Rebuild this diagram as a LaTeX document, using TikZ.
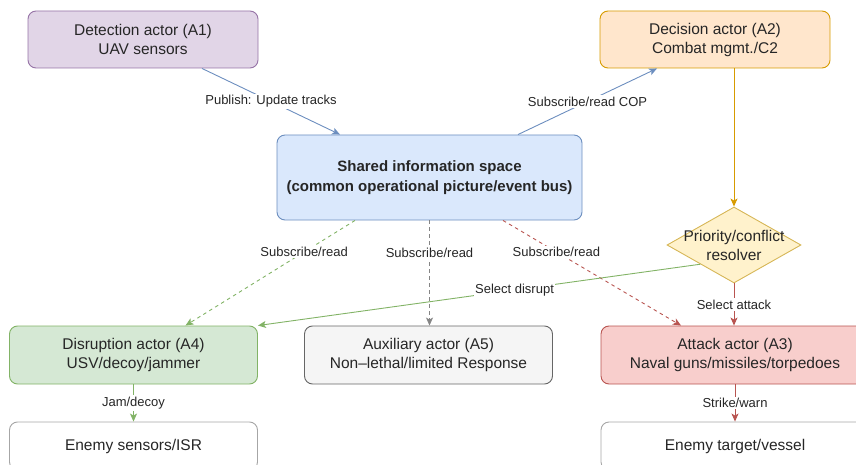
\documentclass[tikz,border=0pt]{standalone}
\usepackage{fontspec}
\setmainfont{Liberation Sans}
\usetikzlibrary{shapes.geometric,arrows.meta,calc}
\definecolor{purF}{HTML}{E1D5E7}\definecolor{purD}{HTML}{9673A6}
\definecolor{oraF}{HTML}{FFE6CC}\definecolor{oraD}{HTML}{D79B00}
\definecolor{bluF}{HTML}{DAE8FC}\definecolor{bluD}{HTML}{6C8EBF}
\definecolor{yelF}{HTML}{FFF2CC}\definecolor{yelD}{HTML}{D6B656}
\definecolor{grnF}{HTML}{D5E8D4}\definecolor{grnD}{HTML}{82B366}
\definecolor{gryF}{HTML}{F5F5F5}\definecolor{gryD}{HTML}{666666}
\definecolor{redF}{HTML}{F8CECC}\definecolor{redD}{HTML}{B85450}
\definecolor{lgD}{HTML}{A6A6A6}
\begin{document}
\begin{tikzpicture}[x=1pt,y=-1pt,
  box/.style={rectangle, rounded corners=8pt, line width=0.9pt, align=center,
    inner sep=0pt, font=\fontsize{15.5}{19}\selectfont, text=black!85},
  lbl/.style={fill=white, inner sep=1.5pt, font=\fontsize{13}{15}\selectfont, text=black!85},
  conn/.style={line width=0.9pt, -{Stealth[length=8pt,width=7pt,inset=2pt]}},
  dsh/.style={conn, dash pattern=on 3.5pt off 3.5pt}]
\useasboundingbox (0,0) rectangle (856,465);
\clip (0,0) rectangle (856,465);

\node[box, fill=purF, draw=purD, minimum width=230pt, minimum height=57pt] (A1) at (143,39.5) {Detection actor (A1)\\UAV sensors};
\node[box, fill=oraF, draw=oraD, minimum width=230pt, minimum height=57pt] (A2) at (715,39.5) {Decision actor (A2)\\Combat mgmt./C2};
\node[box, fill=bluF, draw=bluD, minimum width=305pt, minimum height=85pt, font=\bfseries\fontsize{15}{20}\selectfont] (S) at (429.5,177.5) {Shared information space\\(common operational picture/event bus)};
\node[diamond, fill=yelF, draw=yelD, line width=0.9pt, inner sep=0pt, minimum width=134pt, minimum height=76pt,
  label={[align=center, font=\fontsize{15.5}{19}\selectfont, text=black!85]center:Priority/conflict\\resolver}] (D) at (734,245) {};
\node[box, fill=grnF, draw=grnD, minimum width=248pt, minimum height=58pt] (A4) at (133.5,355) {Disruption actor (A4)\\USV/decoy/jammer};
\node[box, fill=gryF, draw=gryD, minimum width=248pt, minimum height=58pt] (A5) at (428.5,355) {Auxiliary actor (A5)\\Non\textendash lethal/limited Response};
\node[box, fill=redF, draw=redD, minimum width=268pt, minimum height=58pt] (A3) at (735,355) {Attack actor (A3)\\Naval guns/missiles/torpedoes};
\node[box, fill=white, draw=lgD, minimum width=248pt, minimum height=48pt] (E1) at (133.5,446) {Enemy sensors/ISR};
\node[box, fill=white, draw=lgD, minimum width=268pt, minimum height=48pt] (E2) at (735,446) {Enemy target/vessel};

\draw[conn, bluD] ([xshift=59pt]A1.south) -- node[lbl]{Publish: Update tracks} ([xshift=-89.5pt]S.north);
\draw[conn, bluD] ([xshift=88.5pt]S.north) -- node[lbl]{Subscribe/read COP} ([xshift=-58pt]A2.south);
\draw[conn, oraD] ([xshift=19pt]A2.south) -- (D.north);
\draw[dsh, grnD] ([xshift=-74.5pt]S.south) -- node[lbl, pos=0.3]{Subscribe/read} ([xshift=52pt]A4.north);
\draw[dsh, gryD!80] (S.south) -- node[lbl, pos=0.31]{Subscribe/read} (S.south |- A5.north);
\draw[dsh, redD] ([xshift=73.5pt]S.south) -- node[lbl, pos=0.3]{Subscribe/read} ([xshift=-54pt]A3.north);
\draw[conn, grnD] (D.south west) -- node[lbl, pos=0.42]{Select disrupt} (A4.north east);
\draw[conn, redD] (D.south) -- node[lbl]{Select attack} (D.south |- A3.north);
\draw[conn, grnD] (A4.south) -- node[lbl]{Jam/decoy} (E1.north);
\draw[conn, redD] (A3.south) -- node[lbl]{Strike/warn} (E2.north);
\end{tikzpicture}
\end{document}
